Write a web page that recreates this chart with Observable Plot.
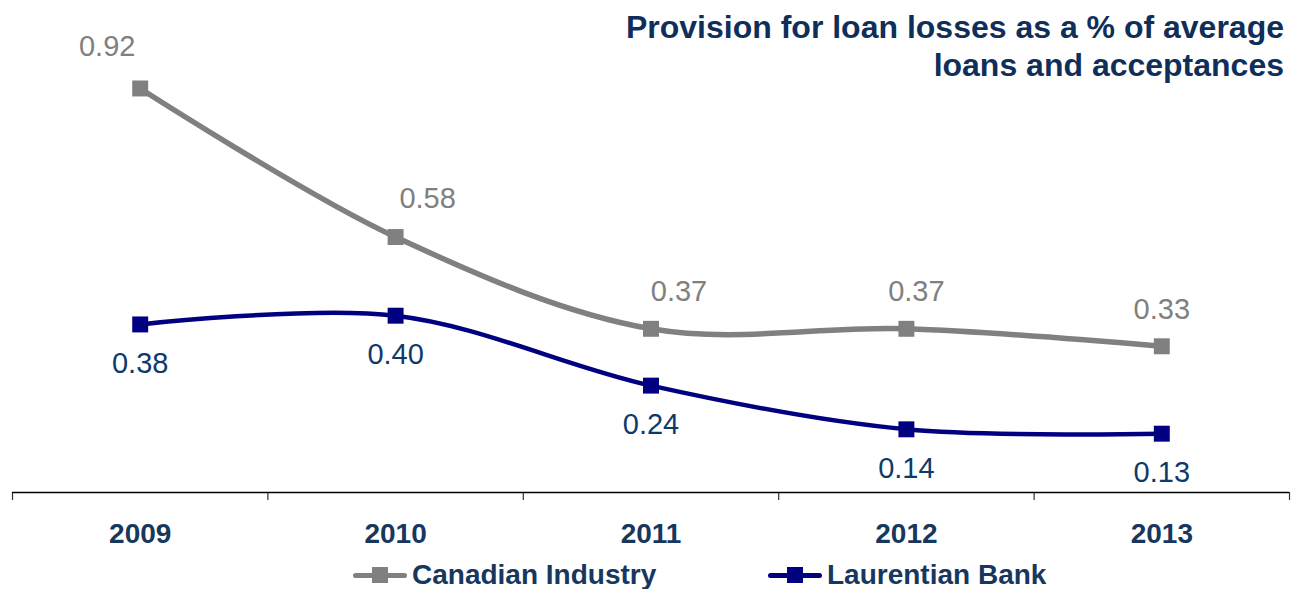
<!DOCTYPE html>
<html>
<head>
<meta charset="utf-8">
<script src="https://cdn.jsdelivr.net/npm/d3@7"></script>
<script src="https://cdn.jsdelivr.net/npm/@observablehq/plot@0.6"></script>
<style>
  html, body { margin: 0; padding: 0; background: #fff; }
  #wrap { position: relative; width: 1291px; height: 589px; font-family: "Liberation Sans", Arial, sans-serif; overflow: hidden; }
  #title { position: absolute; right: 7px; top: 8px; text-align: right; font-weight: bold; font-size: 32px; line-height: 38px; color: #0f2f5a; z-index: 2; }
  #legend { position: absolute; top: 559px; left: 0; width: 1291px; height: 32px; }
  .item { position: absolute; top: 0; display: flex; align-items: center; height: 32px; font-weight: bold; font-size: 28px; color: #17375e; }
  .swatch { position: relative; width: 54px; height: 32px; margin-right: 5px; }
  .swatch .ln { position: absolute; left: 0; right: 0; top: 14px; height: 5px; border-radius: 3px; }
  .swatch .sq { position: absolute; left: 19px; top: 8px; width: 16px; height: 16px; }
</style>
</head>
<body>
<div id="wrap">
  <div id="title">Provision for loan losses as a % of average<br>loans and acceptances</div>
  <div id="chart"></div>
  <div id="legend"></div>
</div>
<script>
// Fiscal years and provision ratios (% of average loans and acceptances)
const years = ["2009", "2010", "2011", "2012", "2013"];
const canadianIndustry = [0.92, 0.58, 0.37, 0.37, 0.33];
const laurentianBank = [0.38, 0.40, 0.24, 0.14, 0.13];
const seriesNames = ["Canadian Industry", "Laurentian Bank"];

const grey = "#808080";
const navy = "#000080";
const labelNavy = "#0e3a6b";
const axisNavy = "#17375e";

const fmt = d3.format(".2f");
const idx = years.map((_, i) => i);
const boundaries = d3.range(years.length + 1).map(i => i - 0.5);

const rows = (values) => values.map((v, i) => ({i, v}));

// nudges for the industry labels so they clear the curve
const industryShiftX = [-33, 32, 28, 10, 0];
const industryShiftY = [-42, -38, -37, -37, -37];

const industryLabels = rows(canadianIndustry).map((d, k) =>
  Plot.text([d], {
    x: "i", y: "v", text: r => fmt(r.v),
    dy: industryShiftY[k], dx: industryShiftX[k],
    fill: grey, fontSize: 29, fontFamily: "Liberation Sans, Arial, sans-serif"
  })
);

const chart = Plot.plot({
  width: 1291,
  height: 555,
  marginTop: 53,
  marginBottom: 65,
  marginLeft: 12,
  marginRight: 2,
  style: {background: "transparent", fontFamily: "Liberation Sans, Arial, sans-serif"},
  x: {type: "linear", domain: [-0.5, years.length - 0.5], label: null},
  y: {domain: [0, 1], axis: null},
  marks: [
    // category boundary ticks
    Plot.axisX(boundaries, {tickSize: 8, tickFormat: () => "", label: null, stroke: "#333", strokeWidth: 1.2, dy: 2}),
    // category labels
    Plot.axisX(idx, {
      tickSize: 0, tickPadding: 33, tickFormat: i => years[i], label: null,
      fontSize: 28, fontWeight: "bold", fill: axisNavy
    }),
    Plot.ruleY([0], {stroke: "#000", strokeWidth: 1.6, dy: 2}),
    Plot.line(rows(canadianIndustry), {x: "i", y: "v", stroke: grey, strokeWidth: 5.5, curve: "catmull-rom"}),
    Plot.line(rows(laurentianBank), {x: "i", y: "v", stroke: navy, strokeWidth: 4.5, curve: "catmull-rom"}),
    Plot.dot(rows(canadianIndustry), {x: "i", y: "v", symbol: "square", r: 9, fill: grey}),
    Plot.dot(rows(laurentianBank), {x: "i", y: "v", symbol: "square", r: 9, fill: navy}),
    ...industryLabels,
    Plot.text(rows(laurentianBank), {
      x: "i", y: "v", text: r => fmt(r.v), dy: 39,
      fill: labelNavy, fontSize: 29, fontFamily: "Liberation Sans, Arial, sans-serif"
    })
  ]
});
document.getElementById("chart").appendChild(chart);

// legend under the plot
const legend = document.getElementById("legend");
const legendItems = [
  {name: seriesNames[0], color: grey, left: 353},
  {name: seriesNames[1], color: navy, left: 768}
];
for (const it of legendItems) {
  const el = document.createElement("div");
  el.className = "item";
  el.style.left = it.left + "px";
  el.innerHTML = `<span class="swatch"><span class="ln" style="background:${it.color}"></span><span class="sq" style="background:${it.color}"></span></span><span>${it.name}</span>`;
  legend.appendChild(el);
}
</script>
</body>
</html>
